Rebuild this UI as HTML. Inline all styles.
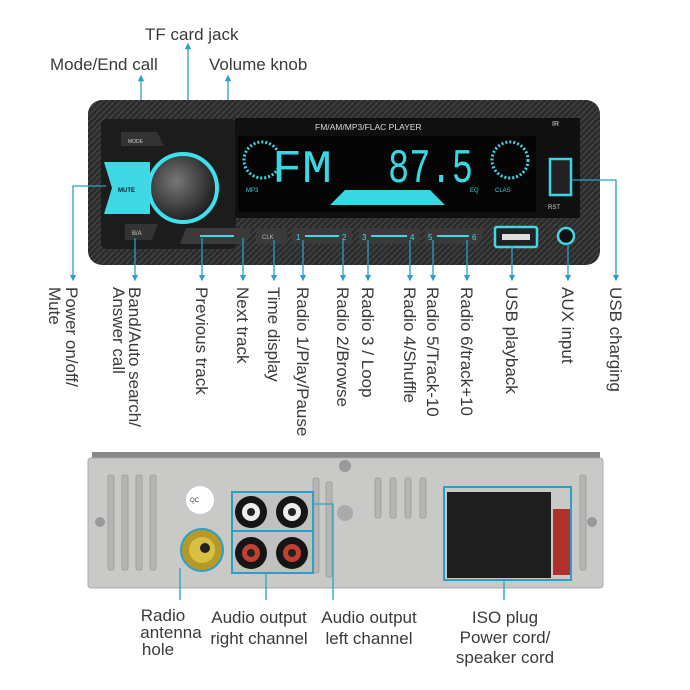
<!DOCTYPE html>
<html><head><meta charset="utf-8"><style>
html,body{margin:0;padding:0;background:#fff;}
svg{display:block;font-family:"Liberation Sans",sans-serif;}
.l{font-size:17px;fill:#3a3a3a;}
.ln{stroke:#2a9fc9;stroke-width:1.3;fill:none;}
</style></head><body>
<svg width="690" height="690" viewBox="0 0 690 690" xmlns="http://www.w3.org/2000/svg">
<defs>
<pattern id="cf" width="6" height="6" patternUnits="userSpaceOnUse">
<rect width="6" height="6" fill="#2b2b2b"/><path d="M0 6L6 0" stroke="#444" stroke-width="1.5"/>
</pattern>
<radialGradient id="kn" cx="0.4" cy="0.4" r="0.7"><stop offset="0" stop-color="#777"/><stop offset="1" stop-color="#111"/></radialGradient>
<marker id="ar" viewBox="0 0 6 6" refX="3" refY="3" markerWidth="5" markerHeight="5" orient="auto"><path d="M0 0L6 3L0 6z" fill="#2a9fc9"/></marker>
</defs>
<text class="l" x="145" y="40">TF card jack</text>
<text class="l" x="50" y="70">Mode/End call</text>
<text class="l" x="209" y="70">Volume knob</text>
<path class="ln" d="M141 130V78" marker-end="url(#ar)"/>
<path class="ln" d="M188 122V46" marker-end="url(#ar)"/>
<path class="ln" d="M182 187H228V78" marker-end="url(#ar)"/>
<rect x="88" y="100" width="512" height="165" rx="14" fill="url(#cf)"/>
<rect x="101" y="119" width="135" height="130" rx="6" fill="#1c1c1c"/>
<rect x="235" y="118" width="345" height="100" fill="#101010"/>
<rect x="238" y="136" width="298" height="76" fill="#050505"/>
<text x="315" y="130" font-size="8.5" fill="#ddd">FM/AM/MP3/FLAC  PLAYER</text>
<text x="272" y="182" font-size="46" fill="#39d7e4" font-family="Liberation Mono" textLength="60" lengthAdjust="spacingAndGlyphs">FM</text>
<text x="388" y="182" font-size="48" fill="#39d7e4" font-family="Liberation Mono" textLength="85" lengthAdjust="spacingAndGlyphs">87.5</text>
<circle cx="262" cy="160" r="18" fill="none" stroke="#39d7e4" stroke-width="3" stroke-dasharray="2 2"/>
<circle cx="510" cy="160" r="18" fill="none" stroke="#39d7e4" stroke-width="3" stroke-dasharray="2 2"/>
<path d="M330 205L345 190H430L445 205Z" fill="#39d7e4"/>
<text x="246" y="192" font-size="6" fill="#39d7e4">MP3</text>
<text x="470" y="192" font-size="6" fill="#39d7e4">EQ</text>
<text x="495" y="192" font-size="6" fill="#39d7e4">CLAS</text>
<text x="552" y="126" font-size="7" fill="#ddd">IR</text>
<rect x="550" y="159" width="21" height="36" fill="#222" stroke="#39d7e4" stroke-width="2.5"/>
<text x="548" y="209" font-size="6" fill="#ddd">RST</text>
<circle cx="183" cy="188" r="34" fill="url(#kn)" stroke="#3fe0ec" stroke-width="4"/>
<path d="M121 132L157 132L164 146H121Z" fill="#333"/>
<text x="128" y="143" font-size="5" fill="#ccc">MODE</text>
<path d="M104 162H150V214H104L112 188Z" fill="#3fd8e4"/>
<text x="118" y="192" font-size="6" font-weight="bold" fill="#123">MUTE</text>
<path d="M125 224H158L152 240H125Z" fill="#333"/>
<text x="132" y="235" font-size="6" fill="#ccc">B/A</text>
<g fill="#3a3a3a"><path d="M186 228H252L246 244H180Z"/><rect x="256" y="228" width="31" height="16"/><rect x="292" y="228" width="60" height="16"/><rect x="359" y="228" width="61" height="16"/><path d="M425 228H485L479 244H425Z"/></g>
<g fill="#3fd8e4" font-size="8"><rect x="200" y="235" width="34" height="2"/><rect x="305" y="235" width="34" height="2"/><rect x="371" y="235" width="36" height="2"/><rect x="437" y="235" width="32" height="2"/>
<text x="296" y="240">1</text><text x="342" y="240">2</text><text x="362" y="240">3</text><text x="410" y="240">4</text><text x="428" y="240">5</text><text x="472" y="240">6</text></g>
<text x="262" y="239" font-size="6" fill="#bbb">CLK</text>
<rect x="495" y="227" width="42" height="20" rx="2" fill="#222" stroke="#3fd8e4" stroke-width="2.5"/>
<rect x="502" y="234" width="28" height="6" fill="#ddd"/>
<circle cx="566" cy="236" r="8" fill="#111" stroke="#3fd8e4" stroke-width="2.5"/>
<g class="ln">
<path d="M106 186H73V278" marker-end="url(#ar)"/>
<path d="M135 238V278" marker-end="url(#ar)"/>
<path d="M202 238V278" marker-end="url(#ar)"/>
<path d="M243 238V278" marker-end="url(#ar)"/>
<path d="M274 240V278" marker-end="url(#ar)"/>
<path d="M303 240V278" marker-end="url(#ar)"/>
<path d="M343 240V278" marker-end="url(#ar)"/>
<path d="M368 240V278" marker-end="url(#ar)"/>
<path d="M410 240V278" marker-end="url(#ar)"/>
<path d="M433 240V278" marker-end="url(#ar)"/>
<path d="M467 240V278" marker-end="url(#ar)"/>
<path d="M512 247V278" marker-end="url(#ar)"/>
<path d="M568 244V278" marker-end="url(#ar)"/>
<path d="M571 180H616V278" marker-end="url(#ar)"/>
</g>
<g class="l">
<text transform="translate(66,287) rotate(90)">Power on/off/</text>
<text transform="translate(49,287) rotate(90)">Mute</text>
<text transform="translate(129,287) rotate(90)">Band/Auto search/</text>
<text transform="translate(113,287) rotate(90)">Answer call</text>
<text transform="translate(196,287) rotate(90)">Previous track</text>
<text transform="translate(237,287) rotate(90)">Next track</text>
<text transform="translate(268,287) rotate(90)">Time display</text>
<text transform="translate(297,287) rotate(90)">Radio 1/Play/Pause</text>
<text transform="translate(337,287) rotate(90)">Radio 2/Browse</text>
<text transform="translate(362,287) rotate(90)">Radio 3 / Loop</text>
<text transform="translate(404,287) rotate(90)">Radio 4/Shuffle</text>
<text transform="translate(427,287) rotate(90)">Radio 5/Track-10</text>
<text transform="translate(461,287) rotate(90)">Radio 6/track+10</text>
<text transform="translate(506,287) rotate(90)">USB playback</text>
<text transform="translate(562,287) rotate(90)">AUX input</text>
<text transform="translate(610,287) rotate(90)">USB charging</text>
</g>
<rect x="92" y="452" width="508" height="10" fill="#888"/>
<rect x="88" y="458" width="515" height="130" rx="3" fill="#c9c9c7" stroke="#aaa"/>
<g fill="#b5b5b3" stroke="#9a9a98" stroke-width="0.8">
<rect x="108" y="475" width="6" height="95" rx="2"/><rect x="122" y="475" width="6" height="95" rx="2"/><rect x="136" y="475" width="6" height="95" rx="2"/><rect x="150" y="475" width="6" height="95" rx="2"/>
<rect x="313" y="478" width="6" height="95" rx="2"/><rect x="326" y="482" width="6" height="95" rx="2"/>
<rect x="375" y="478" width="6" height="40" rx="2"/><rect x="390" y="478" width="6" height="40" rx="2"/><rect x="405" y="478" width="6" height="40" rx="2"/><rect x="420" y="478" width="6" height="40" rx="2"/>
<rect x="580" y="475" width="6" height="95" rx="2"/>
</g>
<circle cx="345" cy="466" r="6" fill="#999"/>
<circle cx="345" cy="513" r="8" fill="#aaa"/>
<circle cx="100" cy="522" r="5" fill="#999"/><circle cx="592" cy="522" r="5" fill="#999"/>
<circle cx="200" cy="500" r="14" fill="#fff"/><text x="190" y="502" font-size="6" fill="#333">QC</text>
<circle cx="202" cy="550" r="21" fill="#b59a2a" stroke="#2a9fc9" stroke-width="2"/><circle cx="202" cy="550" r="13" fill="#d8c045"/><circle cx="205" cy="548" r="5" fill="#222"/>
<rect x="232" y="492" width="81" height="81" fill="#c0c0be" stroke="#2a9fc9" stroke-width="2"/>
<line x1="232" y1="531" x2="313" y2="531" stroke="#2a9fc9" stroke-width="2"/>
<g><circle cx="251" cy="512" r="16" fill="#151515"/><circle cx="251" cy="512" r="9" fill="#eee"/><circle cx="251" cy="512" r="4" fill="#222"/>
<circle cx="292" cy="512" r="16" fill="#151515"/><circle cx="292" cy="512" r="9" fill="#eee"/><circle cx="292" cy="512" r="4" fill="#222"/>
<circle cx="251" cy="553" r="16" fill="#151515"/><circle cx="251" cy="553" r="9" fill="#c0412f"/><circle cx="251" cy="553" r="4" fill="#222"/>
<circle cx="292" cy="553" r="16" fill="#151515"/><circle cx="292" cy="553" r="9" fill="#c0412f"/><circle cx="292" cy="553" r="4" fill="#222"/></g>
<rect x="444" y="487" width="127" height="93" fill="none" stroke="#2a9fc9" stroke-width="2"/>
<rect x="447" y="492" width="104" height="86" fill="#1e1e1e"/>
<rect x="553" y="509" width="17" height="66" fill="#b0302a"/>
<g class="ln">
<path d="M180 568V600"/>
<path d="M266 573V600"/>
<path d="M313 504H333V600"/>
<path d="M504 580V600"/>
</g>
<g class="l" text-anchor="middle">
<text x="163" y="621">Radio</text><text x="171" y="638">antenna</text><text x="158" y="655">hole</text>
<text x="259" y="623">Audio output</text><text x="259" y="644">right channel</text>
<text x="369" y="623">Audio output</text><text x="369" y="644">left channel</text>
<text x="505" y="623">ISO plug</text><text x="505" y="643">Power cord/</text><text x="505" y="663">speaker cord</text>
</g>
</svg>
</body></html>
